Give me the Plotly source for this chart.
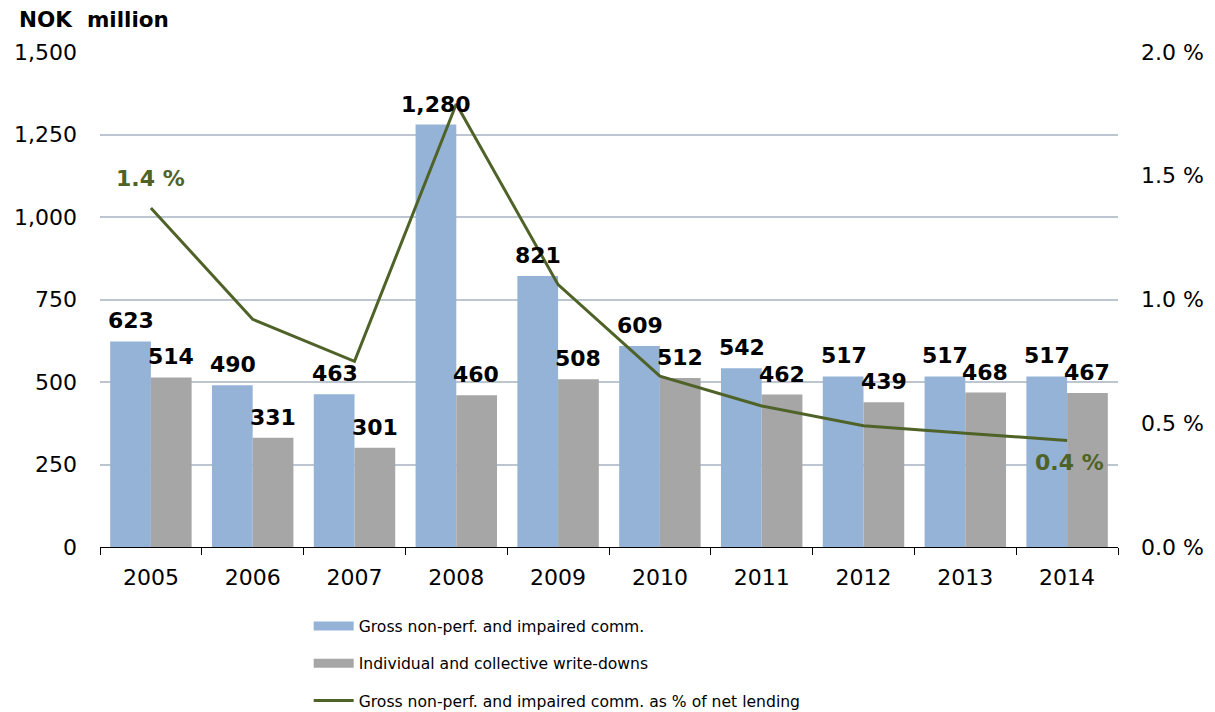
import plotly.graph_objects as go

years = ["2005", "2006", "2007", "2008", "2009", "2010", "2011", "2012", "2013", "2014"]
gross_impaired = [623, 490, 463, 1280, 821, 609, 542, 517, 517, 517]
write_downs = [514, 331, 301, 460, 508, 512, 462, 439, 468, 467]
pct_of_lending = [1.37, 0.92, 0.75, 1.79, 1.06, 0.69, 0.57, 0.49, 0.46, 0.43]

left_ticks = [0, 250, 500, 750, 1000, 1250, 1500]
right_ticks = [0.0, 0.5, 1.0, 1.5, 2.0]
right_tick_text = ["0.0 %", "0.5 %", "1.0 %", "1.5 %", "2.0 %"]

NAME_GROSS = "Gross non-perf. and impaired comm."
NAME_WD = "Individual and collective write-downs"
NAME_PCT = "Gross non-perf. and impaired comm. as % of net lending"

BLUE = "#95B3D7"
GREY = "#A6A6A6"
GREEN = "#4F6228"
GRID = "#BCC5D0"
FONT = "DejaVu Sans"

fig = go.Figure()
fig.add_trace(go.Bar(
    x=years, y=gross_impaired, name=NAME_GROSS, showlegend=False,
    marker=dict(color=BLUE, line=dict(width=0)),
))
fig.add_trace(go.Bar(
    x=years, y=write_downs, name=NAME_WD, showlegend=False,
    marker=dict(color=GREY, line=dict(width=0)),
))

# legend keys for the bars drawn as wide, flat swatches
for rank, (name, color, grp) in enumerate(((NAME_GROSS, BLUE, "a"), (NAME_WD, GREY, "b")), 1):
    fig.add_trace(go.Scatter(
        x=[None], y=[None], mode="lines", name=name, legendgroup=grp,
        legendrank=rank, line=dict(color=color, width=9), hoverinfo="skip",
    ))

fig.add_trace(go.Scatter(
    x=years, y=pct_of_lending, yaxis="y2", mode="lines", name=NAME_PCT,
    line=dict(color=GREEN, width=3), legendgroup="c", legendrank=3,
))

# value labels above each bar (x given as category index)
annotations = []
for i, (a, b) in enumerate(zip(gross_impaired, write_downs)):
    for val, shift in ((a, -20), (b, 20)):
        annotations.append(dict(
            x=i, y=val, xref="x", yref="y", text=f"{val:,}", showarrow=False,
            xshift=shift, yshift=6, yanchor="bottom",
            font=dict(family=FONT, size=22, color="black", weight="bold"),
        ))

# first and last percentage labels
annotations.append(dict(
    x=0, y=pct_of_lending[0], xref="x", yref="y2",
    text=f"{pct_of_lending[0]:.1f} %", showarrow=False, yshift=29,
    font=dict(family=FONT, size=22, color=GREEN, weight="bold"),
))
annotations.append(dict(
    x=len(years) - 1, y=pct_of_lending[-1], xref="x", yref="y2",
    text=f"{pct_of_lending[-1]:.1f} %", showarrow=False, yshift=-22, xshift=2,
    font=dict(family=FONT, size=22, color=GREEN, weight="bold"),
))
annotations.append(dict(
    x=-0.082, y=1.065, xref="x domain", yref="y domain", text="<b>NOK  million</b>",
    showarrow=False, xanchor="left", yanchor="middle",
    font=dict(family=FONT, size=21.5, color="black"),
))

fig.update_layout(
    width=1215, height=712,
    margin=dict(l=100, r=97, t=52, b=165, autoexpand=False),
    paper_bgcolor="white", plot_bgcolor="white",
    barmode="group", bargap=0.2, bargroupgap=0,
    font=dict(family=FONT, size=22, color="black"),
    xaxis=dict(
        type="category", range=[-0.5, len(years) - 0.5],
        tickson="boundaries", ticks="outside", ticklen=7,
        tickcolor="black", showline=True, linecolor="black", linewidth=1,
        showgrid=False, ticklabelstandoff=11, tickfont=dict(size=22),
    ),
    yaxis=dict(
        range=[0, 1500], tickvals=left_ticks, tickformat=",",
        showgrid=True, gridcolor=GRID, gridwidth=1.5, zeroline=False,
        showline=False, ticks="", ticklabelstandoff=22, tickfont=dict(size=22),
    ),
    yaxis2=dict(
        range=[0, 2.0], tickvals=right_ticks, ticktext=right_tick_text,
        overlaying="y", side="right", showgrid=False, zeroline=False,
        showline=False, ticks="", ticklabelstandoff=22, tickfont=dict(size=22),
    ),
    legend=dict(
        orientation="v", x=0.205, xanchor="left", y=-0.126, yanchor="top",
        font=dict(family=FONT, size=15.6), tracegroupgap=14, itemwidth=40,
        traceorder="grouped", bgcolor="rgba(0,0,0,0)",
    ),
    annotations=annotations,
)

fig.write_html("out.html")
